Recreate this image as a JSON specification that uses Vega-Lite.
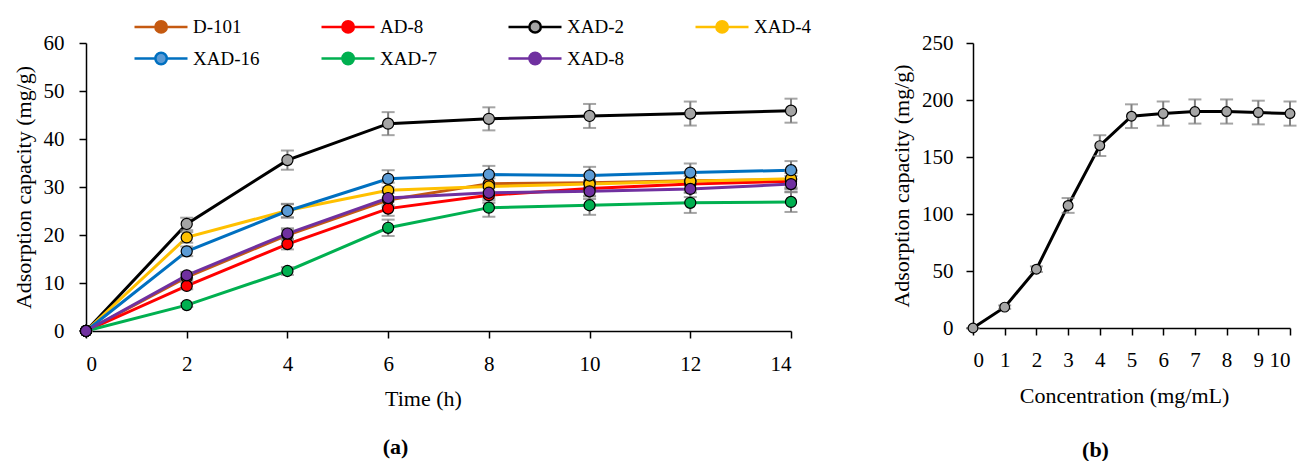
{
  "$schema": "https://vega.github.io/schema/vega-lite/v6.json",
  "background": "white",
  "padding": {"left": 11, "top": 15, "right": 3, "bottom": 0},
  "bounds": "flush",
  "spacing": 182,
  "config": {
    "font": "Liberation Serif",
    "view": {"stroke": null},
    "axis": {
      "grid": false,
      "labelFont": "Liberation Serif",
      "titleFont": "Liberation Serif",
      "labelFontSize": 21,
      "titleFontSize": 22,
      "titleFontWeight": "normal",
      "labelColor": "black",
      "titleColor": "black",
      "domainColor": "black",
      "tickColor": "black",
      "domainWidth": 1.5,
      "tickWidth": 1.5,
      "tickSize": 7
    },
    "title": {"font": "Liberation Serif", "fontSize": 22, "fontWeight": "bold", "color": "black"}
  },
  "datasets": {
    "kin": [
      {"series": "D-101", "t": 0, "q": 0, "err": 0},
      {"series": "D-101", "t": 2, "q": 11.2, "err": 0.7},
      {"series": "D-101", "t": 4, "q": 20.0, "err": 1.1},
      {"series": "D-101", "t": 6, "q": 27.3, "err": 1.5},
      {"series": "D-101", "t": 8, "q": 30.7, "err": 1.7},
      {"series": "D-101", "t": 10, "q": 30.9, "err": 1.7},
      {"series": "D-101", "t": 12, "q": 31.3, "err": 1.8},
      {"series": "D-101", "t": 14, "q": 31.5, "err": 1.8},
      {"series": "AD-8", "t": 0, "q": 0, "err": 0},
      {"series": "AD-8", "t": 2, "q": 9.4, "err": 0.7},
      {"series": "AD-8", "t": 4, "q": 18.1, "err": 1.1},
      {"series": "AD-8", "t": 6, "q": 25.5, "err": 1.5},
      {"series": "AD-8", "t": 8, "q": 28.3, "err": 1.6},
      {"series": "AD-8", "t": 10, "q": 29.7, "err": 1.7},
      {"series": "AD-8", "t": 12, "q": 30.6, "err": 1.7},
      {"series": "AD-8", "t": 14, "q": 31.2, "err": 1.7},
      {"series": "XAD-2", "t": 0, "q": 0, "err": 0},
      {"series": "XAD-2", "t": 2, "q": 22.3, "err": 1.3},
      {"series": "XAD-2", "t": 4, "q": 35.6, "err": 2.0},
      {"series": "XAD-2", "t": 6, "q": 43.2, "err": 2.4},
      {"series": "XAD-2", "t": 8, "q": 44.2, "err": 2.4},
      {"series": "XAD-2", "t": 10, "q": 44.8, "err": 2.5},
      {"series": "XAD-2", "t": 12, "q": 45.3, "err": 2.5},
      {"series": "XAD-2", "t": 14, "q": 45.9, "err": 2.5},
      {"series": "XAD-4", "t": 0, "q": 0, "err": 0},
      {"series": "XAD-4", "t": 2, "q": 19.5, "err": 1.1},
      {"series": "XAD-4", "t": 4, "q": 25.1, "err": 1.4},
      {"series": "XAD-4", "t": 6, "q": 29.3, "err": 1.6},
      {"series": "XAD-4", "t": 8, "q": 30.1, "err": 1.7},
      {"series": "XAD-4", "t": 10, "q": 30.6, "err": 1.7},
      {"series": "XAD-4", "t": 12, "q": 31.2, "err": 1.7},
      {"series": "XAD-4", "t": 14, "q": 31.7, "err": 1.8},
      {"series": "XAD-16", "t": 0, "q": 0, "err": 0},
      {"series": "XAD-16", "t": 2, "q": 16.6, "err": 1.0},
      {"series": "XAD-16", "t": 4, "q": 25.0, "err": 1.4},
      {"series": "XAD-16", "t": 6, "q": 31.7, "err": 1.8},
      {"series": "XAD-16", "t": 8, "q": 32.6, "err": 1.8},
      {"series": "XAD-16", "t": 10, "q": 32.4, "err": 1.8},
      {"series": "XAD-16", "t": 12, "q": 33.0, "err": 1.9},
      {"series": "XAD-16", "t": 14, "q": 33.5, "err": 1.9},
      {"series": "XAD-7", "t": 0, "q": 0, "err": 0},
      {"series": "XAD-7", "t": 2, "q": 5.4, "err": 0.4},
      {"series": "XAD-7", "t": 4, "q": 12.5, "err": 0.8},
      {"series": "XAD-7", "t": 6, "q": 21.5, "err": 1.7},
      {"series": "XAD-7", "t": 8, "q": 25.7, "err": 1.9},
      {"series": "XAD-7", "t": 10, "q": 26.2, "err": 2.0},
      {"series": "XAD-7", "t": 12, "q": 26.7, "err": 2.1},
      {"series": "XAD-7", "t": 14, "q": 26.9, "err": 2.1},
      {"series": "XAD-8", "t": 0, "q": 0, "err": 0},
      {"series": "XAD-8", "t": 2, "q": 11.6, "err": 0.7},
      {"series": "XAD-8", "t": 4, "q": 20.3, "err": 1.1},
      {"series": "XAD-8", "t": 6, "q": 27.7, "err": 1.5},
      {"series": "XAD-8", "t": 8, "q": 28.8, "err": 1.6},
      {"series": "XAD-8", "t": 10, "q": 29.1, "err": 1.6},
      {"series": "XAD-8", "t": 12, "q": 29.6, "err": 1.7},
      {"series": "XAD-8", "t": 14, "q": 30.6, "err": 1.7}
    ],
    "iso": [
      {"c": 0, "q": 0, "err": 0},
      {"c": 1, "q": 18.3, "err": 1.5},
      {"c": 2, "q": 51.6, "err": 2.5},
      {"c": 3, "q": 107.5, "err": 6.5},
      {"c": 4, "q": 160, "err": 9.1},
      {"c": 5, "q": 185.8, "err": 10.4},
      {"c": 6, "q": 188.1, "err": 10.6},
      {"c": 7, "q": 189.9, "err": 10.6},
      {"c": 8, "q": 189.9, "err": 10.6},
      {"c": 9, "q": 189.0, "err": 10.4},
      {"c": 10, "q": 188.1, "err": 10.6}
    ]
  },
  "hconcat": [
    {
      "width": 705,
      "height": 288,
      "data": {"name": "kin"},
      "title": {"text": "(a)", "orient": "bottom", "offset": 28, "dx": -43},
      "encoding": {
        "x": {"field": "t", "type": "quantitative", "scale": {"domain": [0, 14]},
              "axis": {"values": [0, 2, 4, 6, 8, 10, 12, 14], "title": "Time (h)", "labelPadding": 15, "titlePadding": 14, "titleX": 337, "titleAnchor": null, "titleAlign": "center"}},
        "y": {"field": "q", "type": "quantitative", "scale": {"domain": [0, 60]},
              "axis": {"values": [0, 10, 20, 30, 40, 50, 60], "title": "Adsorption capacity (mg/g)", "labelPadding": 15, "titlePadding": 8}}
      },
      "layer": [
        {
          "mark": {"type": "line", "strokeWidth": 3},
          "encoding": {
            "color": {
              "field": "series", "type": "nominal",
              "scale": {"domain": ["D-101", "AD-8", "XAD-2", "XAD-4", "XAD-16", "XAD-7", "XAD-8"],
                        "range": ["#C55A11", "#FF0000", "#000000", "#FFC000", "#0070C0", "#00B050", "#7030A0"]},
              "legend": {
                "orient": "none", "legendX": 47, "legendY": -28, "columns": 4, "direction": "horizontal", "title": null,
                "symbolType": "M-1,0L1.09,0M2.23,0L4.3,0M2.23,0A0.57,0.57,0,1,1,1.09,0A0.57,0.57,0,1,1,2.23,0Z",
                "symbolSize": 400, "symbolStrokeWidth": 2.5, "labelOffset": 37,
                "labelFont": "Liberation Serif", "labelFontSize": 19, "labelColor": "black",
                "gridAlign": "all", "columnPadding": 56, "rowPadding": 9,
                "encode": {"symbols": {"update": {"fill": {"scale": "fill", "field": "value"}, "stroke": {"scale": "color", "field": "value"}, "opacity": {"value": 1}}}}
              }
            }
          }
        },
        {
          "mark": {"type": "errorbar", "color": "#7F7F7F", "thickness": 2, "ticks": {"size": 13, "color": "#7F7F7F"}},
          "encoding": {"yError": {"field": "err"}, "detail": {"field": "series"}}
        },
        {
          "mark": {"type": "point", "filled": true, "size": 123, "stroke": "black", "strokeWidth": 1.2, "opacity": 1},
          "encoding": {
            "fill": {
              "field": "series", "type": "nominal",
              "scale": {"domain": ["D-101", "AD-8", "XAD-2", "XAD-4", "XAD-16", "XAD-7", "XAD-8"],
                        "range": ["#C55A11", "#FF0000", "#A5A5A5", "#FFC000", "#5B9BD5", "#00B050", "#7030A0"]},
              "legend": null
            }
          }
        }
      ]
    },
    {
      "width": 317,
      "height": 285,
      "data": {"name": "iso"},
      "title": {"text": "(b)", "orient": "bottom", "offset": 34, "dx": -36},
      "encoding": {
        "x": {"field": "c", "type": "quantitative", "scale": {"domain": [0, 10]},
              "axis": {"values": [0, 1, 2, 3, 4, 5, 6, 7, 8, 9, 10], "title": "Concentration (mg/mL)", "labelPadding": 14, "titlePadding": 15, "titleX": 151, "titleAnchor": null, "titleAlign": "center"}},
        "y": {"field": "q", "type": "quantitative", "scale": {"domain": [0, 250]},
              "axis": {"values": [0, 50, 100, 150, 200, 250], "title": "Adsorption capacity (mg/g)", "labelPadding": 13, "titlePadding": 8}}
      },
      "layer": [
        {"mark": {"type": "line", "strokeWidth": 3, "color": "black"}, "encoding": {}},
        {"mark": {"type": "errorbar", "color": "#7F7F7F", "thickness": 2, "ticks": {"size": 13, "color": "#7F7F7F"}},
         "encoding": {"yError": {"field": "err"}}},
        {"mark": {"type": "point", "filled": true, "size": 95, "fill": "#A5A5A5", "stroke": "black", "strokeWidth": 1.2, "opacity": 1}, "encoding": {}}
      ]
    }
  ]
}
